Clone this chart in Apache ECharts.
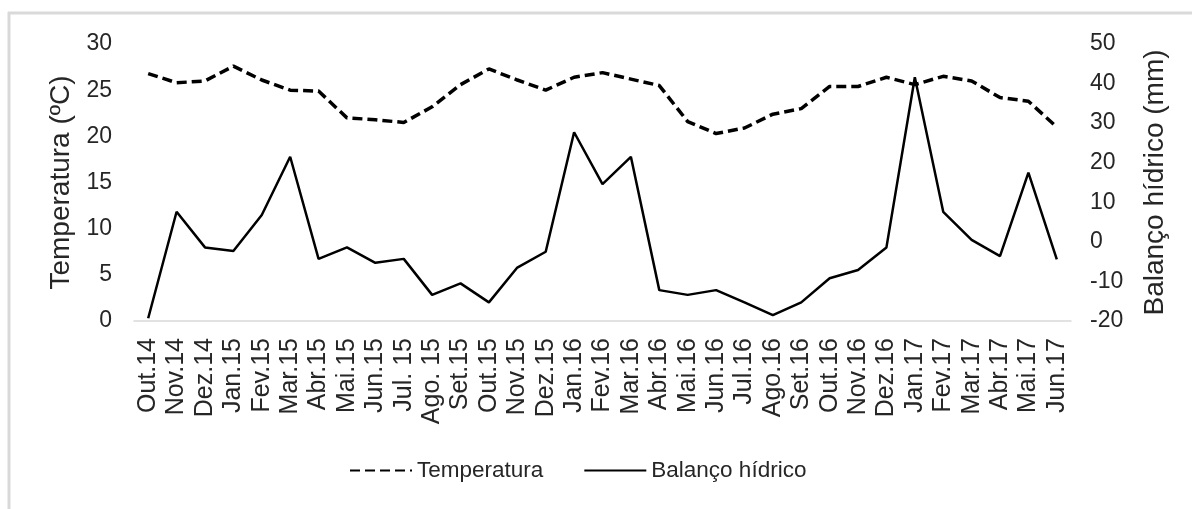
<!DOCTYPE html>
<html>
<head>
<meta charset="utf-8">
<script src="https://cdn.jsdelivr.net/npm/echarts@6/dist/echarts.min.js"></script>
<style>
  html, body { margin: 0; padding: 0; background: #fff; }
  #chart { width: 1192px; height: 509px; }
</style>
</head>
<body>
<div id="chart"></div>
<script>
const months = ['Out.14', 'Nov.14', 'Dez.14', 'Jan.15', 'Fev.15', 'Mar.15', 'Abr.15', 'Mai.15', 'Jun.15',
  'Jul. 15', 'Ago. 15', 'Set.15', 'Out.15', 'Nov.15', 'Dez.15', 'Jan.16', 'Fev.16', 'Mar.16', 'Abr.16',
  'Mai.16', 'Jun.16', 'Jul.16', 'Ago.16', 'Set.16', 'Out.16', 'Nov.16', 'Dez.16', 'Jan.17', 'Fev.17',
  'Mar.17', 'Abr.17', 'Mai.17', 'Jun.17'];

const temperatura = [26.8, 25.8, 26.0, 27.6, 26.1, 25.0, 24.9, 22.0, 21.8, 21.5, 23.2, 25.6, 27.3, 26.1,
  25.0, 26.4, 26.9, 26.2, 25.5, 21.6, 20.3, 20.9, 22.4, 23.0, 25.4, 25.4, 26.4, 25.6, 26.5, 26.0, 24.2,
  23.8, 21.0];

const balanco = [-19.3, 7.6, -1.4, -2.3, 6.8, 21.5, -4.3, -1.4, -5.3, -4.3, -13.4, -10.5, -15.3, -6.5,
  -2.5, 27.7, 14.6, 21.5, -12.2, -13.4, -12.2, -15.3, -18.5, -15.3, -9.2, -7.1, -1.4, 41.6, 7.6, 0.5,
  -3.6, 17.5, -4.4];

const txt = '#262626';
const fontFam = 'Liberation Sans, Arial, sans-serif';

const myChart = echarts.init(document.getElementById('chart'));

const option = {
  animation: false,
  backgroundColor: '#fff',
  textStyle: { fontFamily: fontFam },
  graphic: [
    { type: 'line', shape: { x1: 8, y1: 13, x2: 1192, y2: 13 }, style: { stroke: '#d9d9d9', lineWidth: 3 } },
    { type: 'line', shape: { x1: 9, y1: 12, x2: 9, y2: 509 }, style: { stroke: '#d9d9d9', lineWidth: 3 } }
  ],
  grid: { left: 134, right: 121, top: 44, bottom: 188 },
  legend: {
    bottom: 22,
    left: 344,
    itemWidth: 62,
    itemHeight: 14,
    itemGap: 40,
    itemStyle: { opacity: 0 },
    textStyle: { fontSize: 22.5, color: txt, fontFamily: fontFam },
    data: ['Temperatura', 'Balanço hídrico']
  },
  xAxis: {
    type: 'category',
    data: months,
    boundaryGap: true,
    axisLine: { lineStyle: { color: '#d9d9d9', width: 1.5 } },
    axisTick: { show: false },
    axisLabel: {
      rotate: 90,
      interval: 0,
      fontSize: 25,
      color: txt,
      margin: 17
    }
  },
  yAxis: [{
    type: 'value',
    min: 0,
    max: 30,
    interval: 5,
    name: 'Temperatura (ºC)',
    nameLocation: 'middle',
    nameGap: 57,
    nameRotate: 90,
    nameTextStyle: { fontSize: 28, color: txt },
    axisLine: { show: false },
    axisTick: { show: false },
    splitLine: { show: false },
    axisLabel: { fontSize: 23, color: txt, margin: 22 }
  }, {
    type: 'value',
    min: -20,
    max: 50,
    interval: 10,
    position: 'right',
    name: 'Balanço hídrico (mm)',
    nameLocation: 'middle',
    nameGap: 70,
    nameRotate: 90,
    nameTextStyle: { fontSize: 28, color: txt },
    axisLine: { show: false },
    axisTick: { show: false },
    splitLine: { show: false },
    axisLabel: { fontSize: 23, color: txt, margin: 19 }
  }],
  series: [{
    name: 'Temperatura',
    type: 'line',
    yAxisIndex: 0,
    data: temperatura,
    symbol: 'none',
    lineStyle: { color: '#000', width: 3.5, type: [10, 5] },
    itemStyle: { color: '#000' }
  }, {
    name: 'Balanço hídrico',
    type: 'line',
    yAxisIndex: 1,
    data: balanco,
    symbol: 'none',
    lineStyle: { color: '#000', width: 2.5 },
    itemStyle: { color: '#000' }
  }]
};

myChart.setOption(option);
</script>
</body>
</html>
